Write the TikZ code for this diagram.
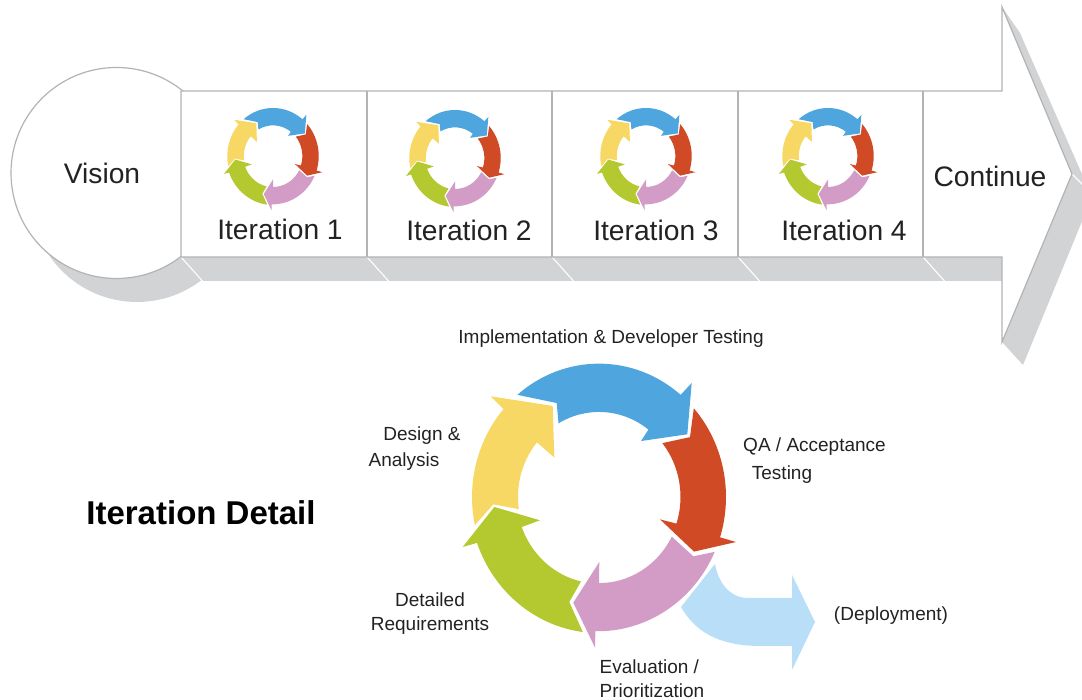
\documentclass[tikz,border=0pt]{standalone}
\usepackage{fontspec}
\setmainfont{Liberation Sans}
\definecolor{greybar}{HTML}{D1D3D4}
\definecolor{edge}{HTML}{B2B3B4}
\definecolor{ink}{HTML}{222222}
\definecolor{cblue}{HTML}{4FA6DE}
\definecolor{cred}{HTML}{D04A25}
\definecolor{cpink}{HTML}{D29CC7}
\definecolor{cgreen}{HTML}{B4C82F}
\definecolor{cyellow}{HTML}{F8D864}
\definecolor{cdeploy}{HTML}{B8DEF8}
\tikzset{
    cycle/.pic={
        \begin{scope}[yscale=1.05]
            \fill[cblue] (130:127) arc[start angle=130, end angle=50, radius=127] -- (92.7,108.6) -- (88.3,59.7) -- (42,53.3) -- (52.4:81) arc[start angle=52.4, end angle=120, radius=81] -- (-42.3,89.5) -- cycle;
            \fill[cred] (41.7:127) arc[start angle=41.7, end angle=-17.6, radius=127] -- (137,-42.9) -- (95,-52) -- (61,-21.3) -- (-18.1:81.5) arc[start angle=-18.1, end angle=39, radius=81.5] -- (91,57) -- cycle;
            \fill[cpink] (-24.3:127) arc[start angle=-24.3, end angle=-91, radius=128.5] -- (-4,-143.5) -- (-25.7,-100.6) -- (0.3,-61.9) -- (-90:82) arc[start angle=-90, end angle=-27.4, radius=82] -- (94.3,-56.5) -- cycle;
            \fill[cgreen] (-97.2:129.6) arc[start angle=-97.2, end angle=-160.3, radius=129.6] -- (-136.3,-47.6) -- (-104.7,-9.5) -- (-59,-22.2) -- (-159.7:82.4) arc[start angle=-159.7, end angle=-102.6, radius=82.4] -- (-29.7,-100) -- cycle;
            \fill[cyellow] (192.2:127) arc[start angle=192.2, end angle=138.8, radius=127] -- (-108.3,95.9) -- (-46.3,86.7) -- (-44.7,37.5) -- (140:81) arc[start angle=140, end angle=188.2, radius=81] -- (-105.7,-7) -- cycle;
        \end{scope}
    },
    body/.style={fill=white, draw=edge, line width=1.2pt, line join=miter},
    gap/.style={draw=white, line width=1.1pt},
    big/.style={text=ink, font=\fontsize{28.2}{30}\selectfont, inner sep=0pt},
    small/.style={text=ink, font=\fontsize{19}{24}\selectfont, inner sep=0pt}
}
\begin{document}
\begin{tikzpicture}[x=1pt, y=1pt]
    \useasboundingbox (0,0) rectangle (1082,700);
    \clip (0,0) rectangle (1082,700);

    \coordinate (bar0) at (181,443);
    \coordinate (bar1) at (367,443);
    \coordinate (bar2) at (552,443);
    \coordinate (bar3) at (738,443);
    \coordinate (bar4) at (923,443);

    % shadows
    \fill[greybar] (137,504) circle (106);
    \fill[greybar] (181,443) -- (202,419) -- (1002,419) -- (1002,443) -- cycle;
    \fill[greybar] (1002,693) -- (1020,667) -- (1092,503) -- (1023,335) -- (1002,358) -- (1072,526) -- cycle;
    \foreach \i in {0,...,4} \draw[gap] (bar\i) -- ++(21.5,-24);
    \draw[gap] (1072,526) -- ++(15,-15);

    % arrow body and circle
    \draw[body] (116.5,527) circle (105.5);
    \draw[body] (181,609) -- (1002,609) -- (1002,693) -- (1072,526) -- (1002,358) -- (1002,443) -- (181,443) -- cycle;
    \foreach \i in {1,...,4} \draw[draw=edge, line width=1.2pt] (bar\i) -- ++(0,166);

    \node[big] (vision) at (102,527) {Vision};
    \node[big] (iter1) at (280,471) {Iteration 1};
    \node[big] (iter2) at (469,470) {Iteration 2};
    \node[big] (iter3) at (656,470) {Iteration 3};
    \node[big] (iter4) at (844,470) {Iteration 4};
    \node[big] (continue) at (990,523.5) {Continue};

    \pic[scale=0.36] at (273,544) {cycle};
    \pic[scale=0.36] at (455,542) {cycle};
    \pic[scale=0.36] at (646,544) {cycle};
    \pic[scale=0.36] at (828,544) {cycle};

    % detail
    \fill[cdeploy] (715,136) to[out=-80, in=180] (748,102) -- (792,102) -- (792,125) -- (815,78) -- (792,30) -- (792,54) -- (762,54) to[out=180, in=-60] (681,93) -- cycle;
    \pic at (599,203) {cycle};

    \node[text=black, font=\bfseries\fontsize{33}{35}\selectfont, inner sep=0pt] (detail) at (201,187) {Iteration Detail};
    \node[small] (impl) at (611,361.5) {Implementation \& Developer Testing};
    \node[small] (design) at (422,264.5) {Design \&};
    \node[small] (analysis) at (404,238.5) {Analysis};
    \node[small] (qa) at (814.5,253.5) {QA / Acceptance};
    \node[small] (testing) at (782,225.5) {Testing};
    \node[small, align=center] (req) at (430,86.5) {Detailed\\Requirements};
    \node[small, align=left] (eval) at (652,21) {Evaluation /\\Prioritization};
    \node[small] (deploy) at (891,84.5) {(Deployment)};
\end{tikzpicture}
\end{document}
